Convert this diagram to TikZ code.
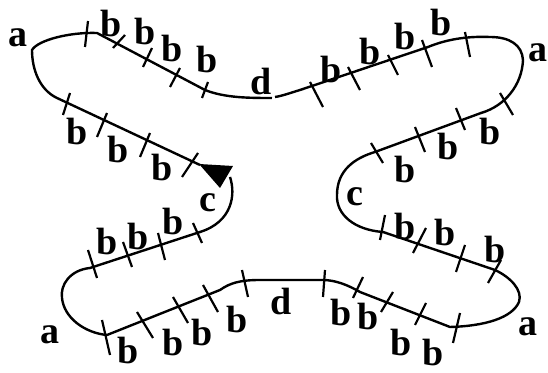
\documentclass[tikz,border=0pt]{standalone}
\usepackage{fontspec}
\setmainfont{Liberation Serif}
\begin{document}
\begin{tikzpicture}[x=0.5pt,y=-0.5pt,
  curve/.style={line width=1.2pt},
  tickmark/.style={line width=1.1pt},
  lbl/.style={font=\fontsize{19}{21}\selectfont\bfseries,inner sep=0pt}]
  \useasboundingbox (0,0) rectangle (548,373);
  % ends of the two pieces
  \coordinate (dTop) at (272,98);
  \coordinate (dTopR) at (275,97);
  \coordinate (arrowIn) at (200,165);
  \coordinate (arrowOut) at (230,177);
  % piece from d round the top left loop to the arrow
  \draw[curve] (dTop) .. controls (250,98) and (225,98) .. (205,90) -- (97,33)
    .. controls (70,32) and (38,40) .. (32,50)
    .. controls (32,70) and (40,90) .. (57,98) -- (arrowIn);
  \fill (199,164) -- (233,166) -- (220,188) -- cycle;
  % piece from the arrow round the rest back to d
  \draw[curve] (arrowOut) .. controls (236,195) and (232,222) .. (200,232) -- (90,268)
    .. controls (70,270) and (60,285) .. (62,298)
    .. controls (64,318) and (85,333) .. (107,335) -- (220,290)
    .. controls (230,283) and (240,280) .. (260,280) -- (323,280)
    .. controls (335,280) and (348,285) .. (360,292) -- (450,327)
    .. controls (485,326) and (512,318) .. (519,302)
    .. controls (523,290) and (510,277) .. (495,270) -- (383,232)
    .. controls (355,230) and (336,215) .. (337,195)
    .. controls (337,170) and (355,158) .. (375,152) -- (481,113)
    .. controls (505,106) and (522,85) .. (523,60)
    .. controls (522,45) and (510,37) .. (490,37)
    .. controls (465,36) and (445,40) .. (428,47) -- (300,90)
    .. controls (290,93) and (282,96) .. (dTopR);
  % ticks
  \foreach \xa/\ya/\xb/\yb in {88/21/85/47, 125/35/113/48, 152/48/143/67,
      180/68/170/87, 208/82/202/98,
      70/93/63/115, 107/113/97/137, 150/133/140/157, 198/153/182/177,
      193/223/202/243, 158/233/165/260, 123/242/132/267, 88/250/97/278,
      102/320/110/355, 137/312/153/338, 173/297/188/323, 203/285/218/312,
      242/270/248/297,
      325/270/323/297, 363/277/353/298, 393/292/381/312, 426/303/415/325,
      460/313/453/343,
      501/260/488/283, 465/245/456/272, 426/228/413/253, 385/215/380/240,
      371/143/383/163, 415/127/425/152, 456/108/465/130, 500/93/513/115,
      465/32/470/57, 422/40/432/67, 388/55/398/75, 348/67/360/90,
      310/82/323/107}
    \draw[tickmark] (\xa,\ya) -- (\xb,\yb);
  % labels
  \node[lbl] (a1) at (18,38) {a};
  \node[lbl] (a2) at (538,53) {a};
  \node[lbl] (a3) at (50,335) {a};
  \node[lbl] (a4) at (528,327) {a};
  \node[lbl] (c1) at (208,203) {c};
  \node[lbl] (c2) at (355,197) {c};
  \node[lbl] (d1) at (261,82) {d};
  \node[lbl] (d2) at (281,302) {d};
  \foreach \x/\y [count=\i] in {111/24, 145/32, 172/49, 207/60,
      77/132, 118/150, 162/168,
      107/242, 138/237, 173/222,
      128/351, 173/343, 202/333, 237/320,
      341/313, 368/317, 401/343, 433/353,
      405/227, 445/233, 495/250,
      490/132, 448/147, 405/170,
      331/70, 370/52, 405/37, 441/23}
    \node[lbl] (b\i) at (\x,\y) {b};
\end{tikzpicture}
\end{document}
